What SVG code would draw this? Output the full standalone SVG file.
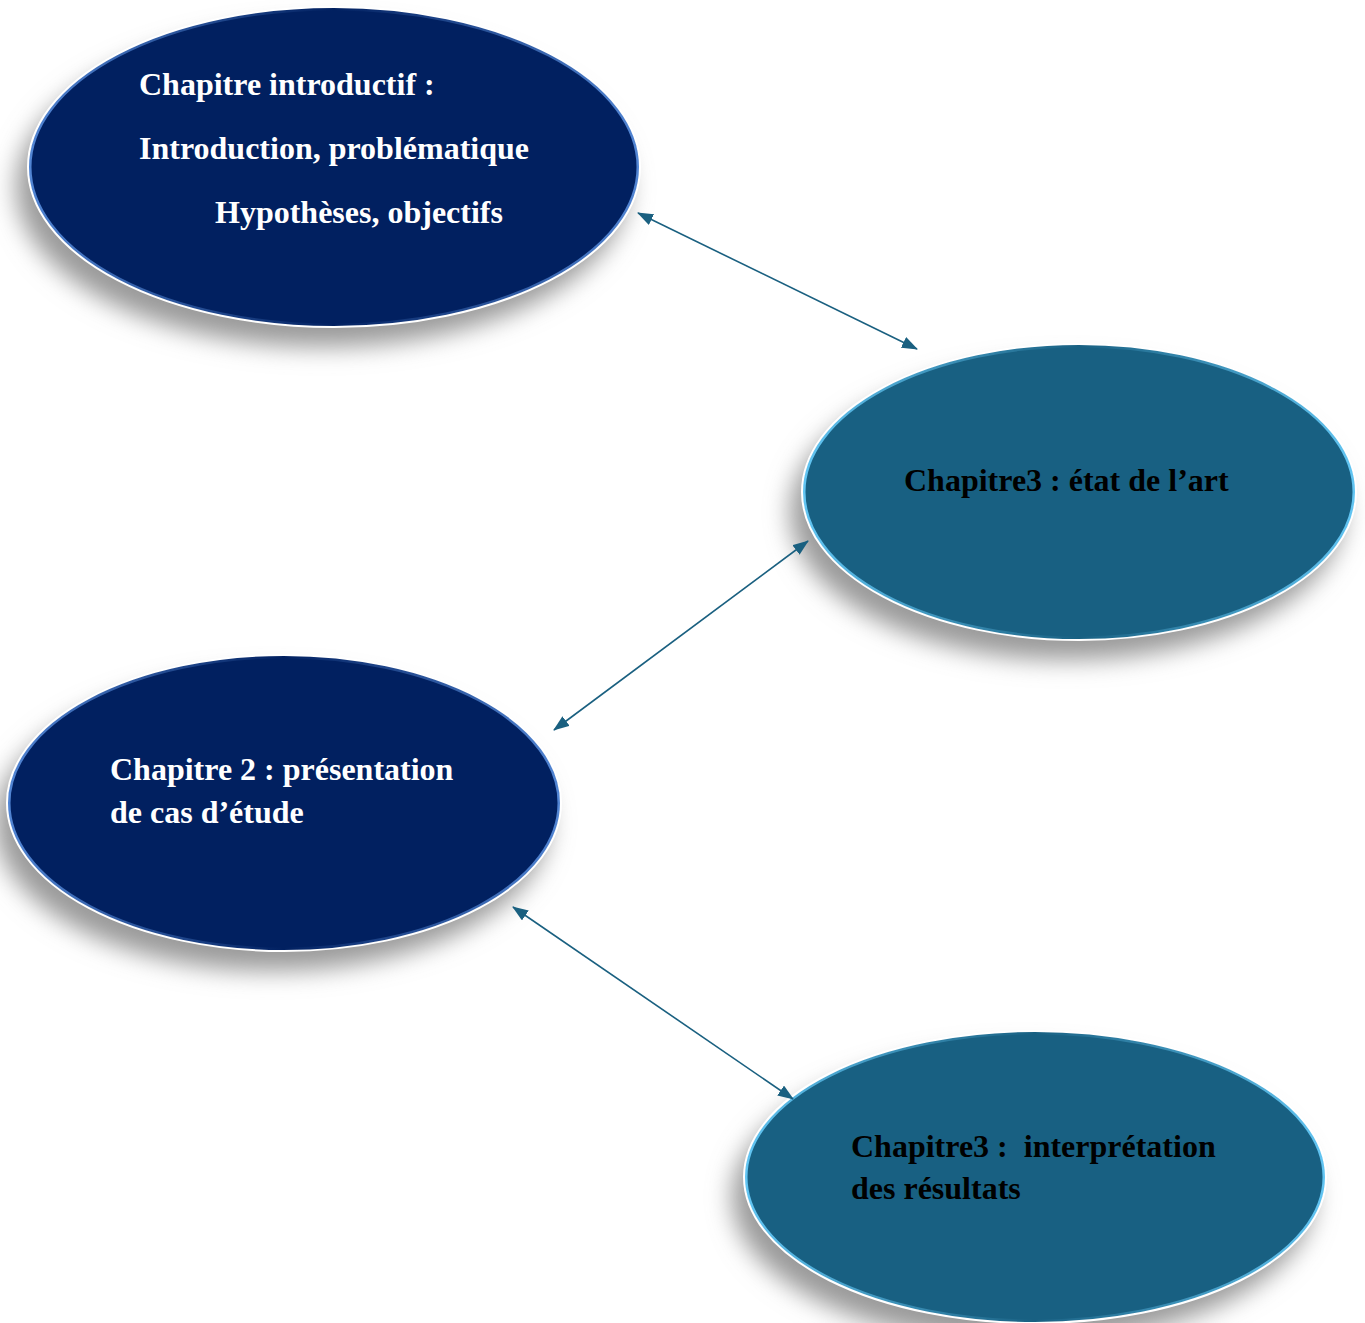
<svg xmlns="http://www.w3.org/2000/svg" width="1365" height="1323" viewBox="0 0 1365 1323">
<style>
.t{font-family:"Liberation Serif","Times New Roman",serif;font-weight:bold;font-size:32px}
.w{fill:#ffffff}
.b{fill:#000000}
.navy{fill:#012060}
.teal{fill:#186082}
.rim{fill:none;stroke:#ffffff;stroke-width:2}
.shadow{fill:#9a9a9a;filter:url(#blur)}
.conn{stroke:#1a6080;stroke-width:1.6;fill:none;marker-start:url(#ah);marker-end:url(#ah)}
</style>
<defs>
<filter id="blur" x="-20%" y="-20%" width="140%" height="140%"><feGaussianBlur stdDeviation="12"/></filter>
<marker id="ah" viewBox="0 0 16 12" refX="15" refY="6" markerWidth="16" markerHeight="12" markerUnits="userSpaceOnUse" orient="auto-start-reverse">
<path d="M0,0 L16,6 L0,12 z" fill="#1a6080"/>
</marker>
<linearGradient id="edgeNavy" x1="0" y1="0" x2="1" y2="0">
<stop offset="0" stop-color="#5a90e0" stop-opacity="0.9"/>
<stop offset="0.5" stop-color="#5a90e0" stop-opacity="0"/>
<stop offset="1" stop-color="#5a90e0" stop-opacity="0.9"/>
</linearGradient>
<linearGradient id="edgeTeal" x1="0" y1="0" x2="1" y2="0">
<stop offset="0" stop-color="#6ad0ff" stop-opacity="0.9"/>
<stop offset="0.5" stop-color="#6ad0ff" stop-opacity="0"/>
<stop offset="1" stop-color="#6ad0ff" stop-opacity="0.9"/>
</linearGradient>
</defs>
<rect width="1365" height="1323" fill="#ffffff"/>
<g id="node1">
<ellipse class="shadow" cx="322" cy="187" rx="306" ry="160"/>
<ellipse class="navy" cx="334" cy="167" rx="306" ry="160"/>
<ellipse cx="334" cy="167" rx="304" ry="158" fill="none" stroke="url(#edgeNavy)" stroke-width="3"/>
<ellipse class="rim" cx="334" cy="167" rx="306" ry="160"/>
<text class="t w" x="139" y="95">Chapitre introductif :</text>
<text class="t w" x="139" y="159">Introduction, problématique</text>
<text class="t w" x="215" y="223">Hypothèses, objectifs</text>
</g>
<g id="node2">
<ellipse class="shadow" cx="1067" cy="512" rx="277" ry="148"/>
<ellipse class="teal" cx="1079" cy="492" rx="277" ry="148"/>
<ellipse cx="1079" cy="492" rx="275" ry="146" fill="none" stroke="url(#edgeTeal)" stroke-width="3"/>
<ellipse class="rim" cx="1079" cy="492" rx="277" ry="148"/>
<text class="t b" x="904" y="491">Chapitre3 : état de l’art</text>
</g>
<g id="node3">
<ellipse class="shadow" cx="272" cy="823" rx="277" ry="148"/>
<ellipse class="navy" cx="284" cy="803" rx="277" ry="148"/>
<ellipse cx="284" cy="803" rx="275" ry="146" fill="none" stroke="url(#edgeNavy)" stroke-width="3"/>
<ellipse class="rim" cx="284" cy="803" rx="277" ry="148"/>
<text class="t w" x="110" y="780">Chapitre 2 : présentation</text>
<text class="t w" x="110" y="823">de cas d’étude</text>
</g>
<g id="node4">
<ellipse class="shadow" cx="1023" cy="1197" rx="291" ry="146"/>
<ellipse class="teal" cx="1035" cy="1177" rx="291" ry="146"/>
<ellipse cx="1035" cy="1177" rx="289" ry="144" fill="none" stroke="url(#edgeTeal)" stroke-width="3"/>
<ellipse class="rim" cx="1035" cy="1177" rx="291" ry="146"/>
<text class="t b" x="851" y="1157" xml:space="preserve">Chapitre3 :  interprétation</text>
<text class="t b" x="851" y="1199">des résultats</text>
</g>
<g id="connectors">
<line class="conn" x1="638" y1="213" x2="917" y2="349"/>
<line class="conn" x1="808" y1="541" x2="554" y2="730"/>
<line class="conn" x1="513" y1="907" x2="793" y2="1099"/>
</g>
</svg>
